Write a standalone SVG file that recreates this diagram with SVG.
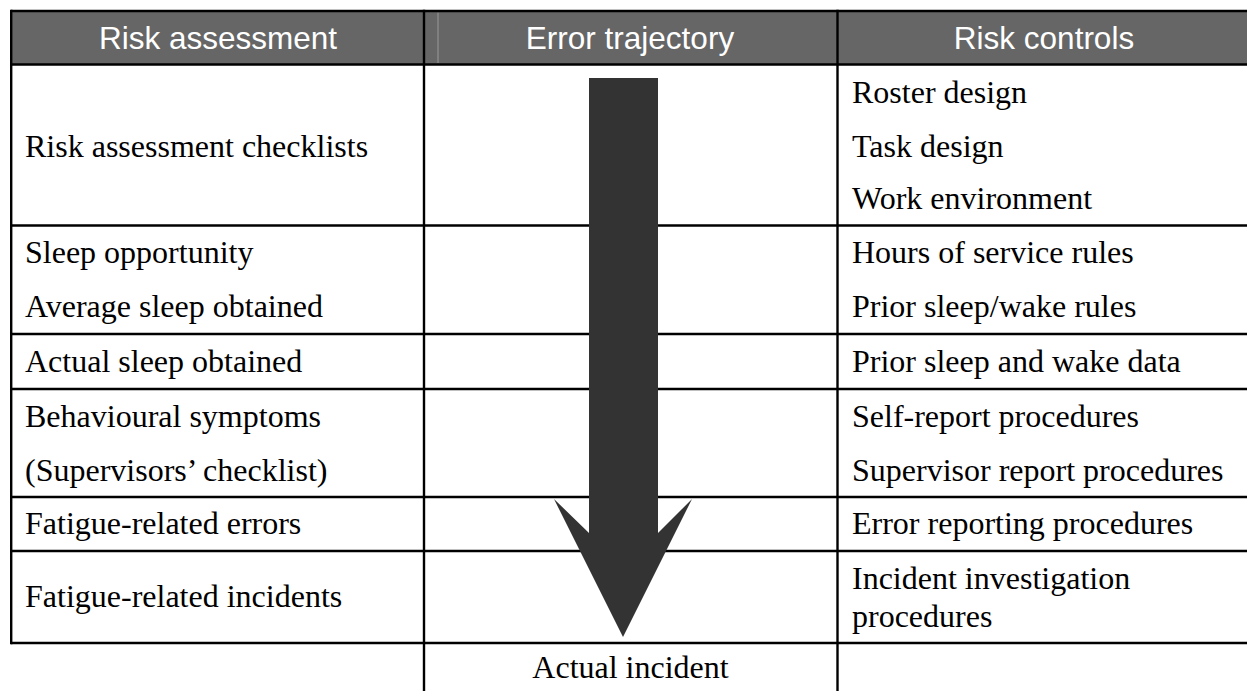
<svg xmlns="http://www.w3.org/2000/svg" width="1247" height="691" viewBox="0 0 1247 691">
<style>
.hdr{font-family:"Liberation Sans",Arial,sans-serif;font-size:31.5px;fill:#ffffff;text-anchor:middle}
.t{font-family:"Liberation Serif","Times New Roman",serif;font-size:32px;fill:#000000}
.grid{stroke:#000000;stroke-width:2.4;fill:none}
</style>
<rect width="1247" height="691" fill="#ffffff"/>
<g id="header">
<rect x="11" y="11" width="1236" height="53.5" fill="#666666"/>
<line x1="438" y1="12.5" x2="438" y2="63" stroke="#9a9a9a" stroke-width="1"/>
<text class="hdr" x="218" y="49">Risk assessment</text>
<text class="hdr" x="630" y="49">Error trajectory</text>
<text class="hdr" x="1044" y="49">Risk controls</text>
</g>
<g id="grid" class="grid">
<line x1="11" y1="11" x2="1247" y2="11"/>
<line x1="11" y1="64.5" x2="1247" y2="64.5"/>
<line x1="11" y1="225.5" x2="1247" y2="225.5"/>
<line x1="11" y1="334" x2="1247" y2="334"/>
<line x1="11" y1="389" x2="1247" y2="389"/>
<line x1="11" y1="497" x2="1247" y2="497"/>
<line x1="11" y1="551" x2="1247" y2="551"/>
<line x1="11" y1="643" x2="1247" y2="643"/>
<line x1="11.2" y1="9.8" x2="11.2" y2="644.2"/>
<line x1="424" y1="9.8" x2="424" y2="691"/>
<line x1="837.5" y1="9.8" x2="837.5" y2="691"/>
</g>
<g id="assessment">
<g id="a1"><text class="t" x="25" y="157">Risk assessment checklists</text></g>
<g id="a2"><text class="t" x="25" y="263">Sleep opportunity</text><text class="t" x="25" y="317">Average sleep obtained</text></g>
<g id="a3"><text class="t" x="25" y="372">Actual sleep obtained</text></g>
<g id="a4"><text class="t" x="25" y="427">Behavioural symptoms</text><text class="t" x="25" y="481">(Supervisors’ checklist)</text></g>
<g id="a5"><text class="t" x="25" y="534">Fatigue-related errors</text></g>
<g id="a6"><text class="t" x="25" y="607">Fatigue-related incidents</text></g>
</g>
<g id="controls">
<g id="c1"><text class="t" x="852" y="103">Roster design</text><text class="t" x="852" y="157">Task design</text><text class="t" x="852" y="209">Work environment</text></g>
<g id="c2"><text class="t" x="852" y="263">Hours of service rules</text><text class="t" x="852" y="317">Prior sleep/wake rules</text></g>
<g id="c3"><text class="t" x="852" y="372">Prior sleep and wake data</text></g>
<g id="c4"><text class="t" x="852" y="427">Self-report procedures</text><text class="t" x="852" y="481">Supervisor report procedures</text></g>
<g id="c5"><text class="t" x="852" y="534">Error reporting procedures</text></g>
<g id="c6"><text class="t" x="852" y="589">Incident investigation</text><text class="t" x="852" y="627">procedures</text></g>
</g>
<g id="connectors">
<polygon id="trajectory-arrow" points="589,78 658,78 658,533 692,499 623,637 554,499 589,533" fill="#333333"/>
</g>
<g id="incident"><text class="t" x="630.5" y="678" text-anchor="middle">Actual incident</text></g>
</svg>
